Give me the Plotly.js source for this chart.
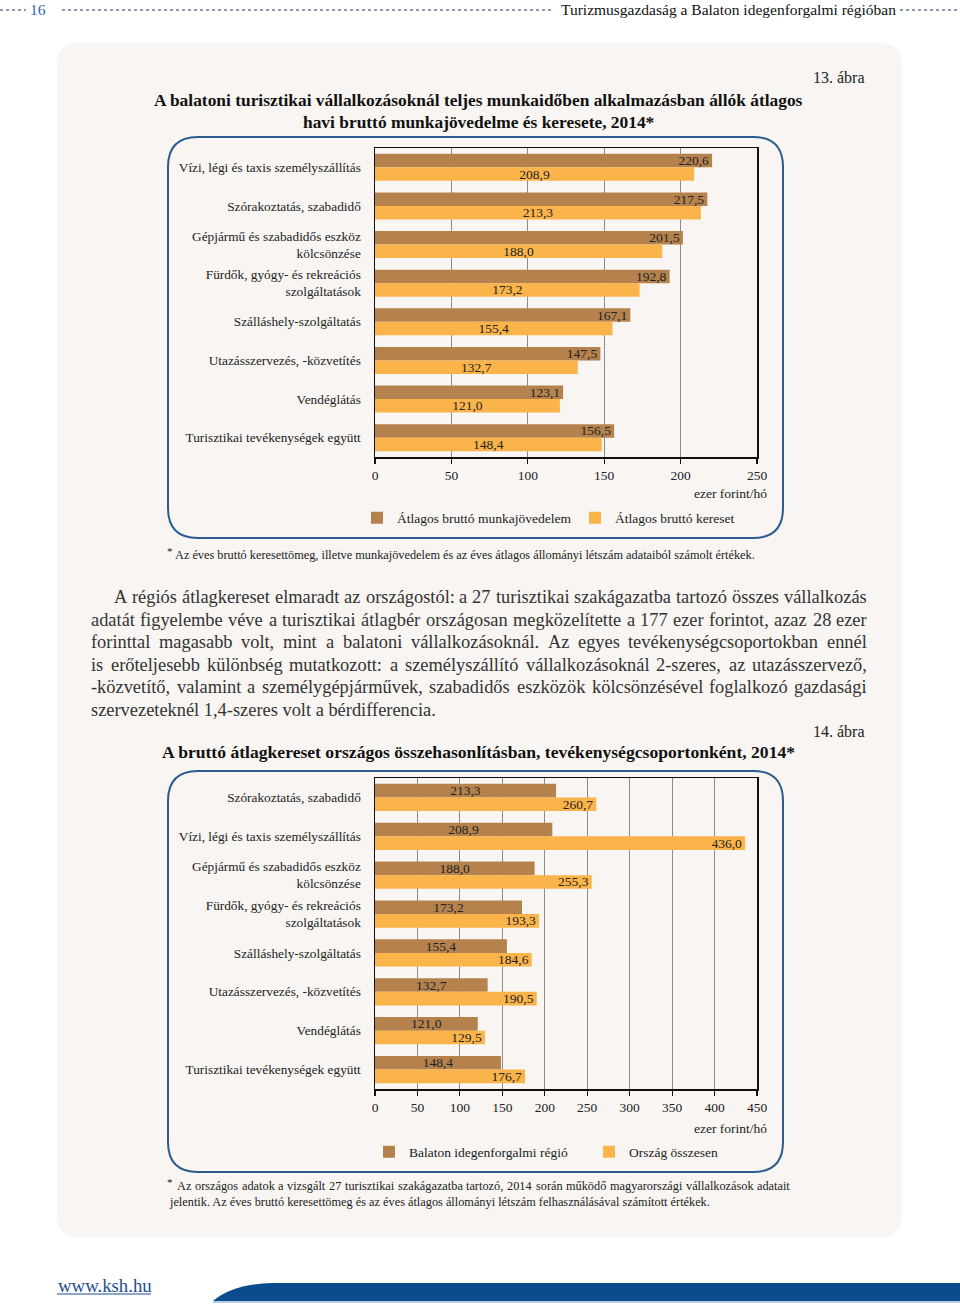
<!DOCTYPE html>
<html><head><meta charset="utf-8">
<script src="https://cdn.plot.ly/plotly-3.0.1.min.js"></script>
<style>html,body{margin:0;padding:0;background:#fff}#chart{width:960px;height:1308px}</style>
</head><body><div id="chart"></div>
<script>
// ---------- DATA ----------
const categories1 = ['Vízi, légi és taxis személyszállítás','Szórakoztatás, szabadidő','Gépjármű és szabadidős eszköz<br>kölcsönzése','Fürdők, gyógy- és rekreációs<br>szolgáltatások','Szálláshely-szolgáltatás','Utazásszervezés, -közvetítés','Vendéglátás','Turisztikai tevékenységek együtt'];
const munkajovedelem = [220.6,217.5,201.5,192.8,167.1,147.5,123.1,156.5];
const kereset = [208.9,213.3,188.0,173.2,155.4,132.7,121.0,148.4];
const seriesNames1 = ['Átlagos bruttó munkajövedelem','Átlagos bruttó kereset'];
const ticks1 = [0,50,100,150,200,250];

const categories2 = ['Szórakoztatás, szabadidő','Vízi, légi és taxis személyszállítás','Gépjármű és szabadidős eszköz<br>kölcsönzése','Fürdők, gyógy- és rekreációs<br>szolgáltatások','Szálláshely-szolgáltatás','Utazásszervezés, -közvetítés','Vendéglátás','Turisztikai tevékenységek együtt'];
const balaton = [213.3,208.9,188.0,173.2,155.4,132.7,121.0,148.4];
const orszag = [260.7,436.0,255.3,193.3,184.6,190.5,129.5,176.7];
const seriesNames2 = ['Balaton idegenforgalmi régió','Ország összesen'];
const ticks2 = [0,50,100,150,200,250,300,350,400,450];

const axisUnit = 'ezer forint/hó';
const title1 = ['A balatoni turisztikai vállalkozásoknál teljes munkaidőben alkalmazásban állók átlagos','havi bruttó munkajövedelme és keresete, 2014*'];
const title2 = 'A bruttó átlagkereset országos összehasonlításban, tevékenységcsoportonként, 2014*';
const figLabel1 = '13. ábra', figLabel2 = '14. ábra';
const note1 = 'Az éves bruttó keresettömeg, illetve munkajövedelem és az éves átlagos állományi létszám adataiból számolt értékek.';
const note2 = ['Az országos adatok a vizsgált 27 turisztikai szakágazatba tartozó, 2014 során működő magyarországi vállalkozások adatait','jelentik. Az éves bruttó keresettömeg és az éves átlagos állományi létszám felhasználásával számított értékek.'];
const paragraph = [
 'A régiós átlagkereset elmaradt az országostól: a 27 turisztikai szakágazatba tartozó összes vállalkozás',
 'adatát figyelembe véve a turisztikai átlagbér országosan megközelítette a 177 ezer forintot, azaz 28 ezer',
 'forinttal magasabb volt, mint a balatoni vállalkozásoknál. Az egyes tevékenységcsoportokban ennél',
 'is erőteljesebb különbség mutatkozott: a személyszállító vállalkozásoknál 2-szeres, az utazásszervező,',
 '-közvetítő, valamint a személygépjárművek, szabadidős eszközök kölcsönzésével foglalkozó gazdasági',
 'szervezeteknél 1,4-szeres volt a bérdifferencia.'];
const headerNum = '16';
const headerText = 'Turizmusgazdaság a Balaton idegenforgalmi régióban';
const footerLink = 'www.ksh.hu';

// ---------- STYLE ----------
const W = 960, H = 1308;
const FONT = '"Liberation Serif", "DejaVu Serif", serif';
const BROWN = '#b5824e', YELLOW = '#fbb44a', BOXBLUE = '#2c5d8e', TXT = '#222';
const px = x => x / W, py = y => 1 - y / H;

function rr(x0, y0, x1, y1, r) {
  const X = x => px(x), Y = y => py(y);
  return `M${X(x0+r)},${Y(y0)} L${X(x1-r)},${Y(y0)} Q${X(x1)},${Y(y0)} ${X(x1)},${Y(y0+r)} L${X(x1)},${Y(y1-r)} Q${X(x1)},${Y(y1)} ${X(x1-r)},${Y(y1)} L${X(x0+r)},${Y(y1)} Q${X(x0)},${Y(y1)} ${X(x0)},${Y(y1-r)} L${X(x0)},${Y(y0+r)} Q${X(x0)},${Y(y0)} ${X(x0+r)},${Y(y0)} Z`;
}

const cv = document.createElement('canvas').getContext('2d');
function measure(t, size) { cv.font = size + 'px "Liberation Serif"'; return cv.measureText(t).width; }
const annotations = [];
function ann(text, x, y, opt = {}) {
  annotations.push(Object.assign({text, x: px(x), y: py(y), xref: 'paper', yref: 'paper', showarrow: false,
    xanchor: 'left', yanchor: 'middle', borderpad: 0,
    font: {family: FONT, size: opt.size || 14, color: opt.color || TXT}}, opt.extra || {}));
}
function justifyLine(line, x0, x1, y, size, color) {
  const words = line.split(' ');
  const ws = words.map(w => measure(w, size));
  const sum = ws.reduce((a, b) => a + b, 0);
  const gap = (x1 - x0 - sum) / (words.length - 1);
  let x = x0;
  words.forEach((w, i) => { ann(w, x, y, {size, color}); x += ws[i] + gap; });
}

// ---------- TEXT ----------
ann(headerNum, 29, 9, {size: 15.5, color: '#2a68b0'});
ann(headerText, 560, 9, {size: 15.5, color: '#111'});
ann(figLabel1, 866, 77, {size: 16, extra: {xanchor: 'right'}});
ann('<b>' + title1[0] + '</b>', 478, 100, {size: 17.4, color: '#111', extra: {xanchor: 'center'}});
ann('<b>' + title1[1] + '</b>', 478, 122, {size: 17.4, color: '#111', extra: {xanchor: 'center'}});
ann(axisUnit, 768, 494, {size: 13.5, extra: {xanchor: 'right'}});
ann('*', 166, 551, {size: 11});
ann(note1, 174, 555, {size: 12.3});
paragraph.forEach((l, i) => {
  const y = 597 + i * 22.6;
  if (i === paragraph.length - 1) ann(l, 90, y, {size: 18.4, color: '#333'});
  else justifyLine(l, i === 0 ? 113 : 90, 866, y, 18.4, '#333');
});
ann(figLabel2, 866, 731, {size: 16, extra: {xanchor: 'right'}});
ann('<b>' + title2 + '</b>', 478, 752, {size: 17.6, color: '#111', extra: {xanchor: 'center'}});
ann(axisUnit, 768, 1128, {size: 13.5, extra: {xanchor: 'right'}});
ann('*', 166, 1182, {size: 11});
justifyLine(note2[0], 176, 789, 1186, 12.3, TXT);
ann(note2[1], 168, 1202, {size: 12.3});
ann(footerLink, 57, 1285, {size: 18.8, color: '#1d4f91'});

// ---------- SHAPES ----------
const shapes = [
  {type: 'path', xref: 'paper', yref: 'paper', layer: 'below', path: rr(57, 43, 902, 1237, 22), fillcolor: '#f8f5f2', line: {width: 0}},
  {type: 'path', xref: 'paper', yref: 'paper', layer: 'below', path: rr(168, 137, 783, 538, 30), fillcolor: 'rgba(0,0,0,0)', line: {color: BOXBLUE, width: 2}},
  {type: 'path', xref: 'paper', yref: 'paper', layer: 'below', path: rr(168, 771, 783, 1172, 30), fillcolor: 'rgba(0,0,0,0)', line: {color: BOXBLUE, width: 2}},
  {type: 'line', xref: 'paper', yref: 'paper', x0: px(0), x1: px(26), y0: py(10), y1: py(10), line: {color: '#8d9bb2', width: 2, dash: 'dot'}},
  {type: 'line', xref: 'paper', yref: 'paper', x0: px(62), x1: px(554), y0: py(10), y1: py(10), line: {color: '#8d9bb2', width: 2, dash: 'dot'}},
  {type: 'line', xref: 'paper', yref: 'paper', x0: px(900), x1: px(960), y0: py(10), y1: py(10), line: {color: '#8d9bb2', width: 2, dash: 'dot'}},
  {type: 'line', xref: 'paper', yref: 'paper', x0: px(57), x1: px(151), y0: py(1294), y1: py(1294), line: {color: '#1d4f91', width: 1}},
  {type: 'path', xref: 'paper', yref: 'paper', path: `M${px(213)},${py(1301)} Q${px(232)},${py(1284)} ${px(272)},${py(1283)} L${px(960)},${py(1283)} L${px(960)},${py(1301)} Z`, fillcolor: '#0b4c8c', line: {width: 0}},
  {type: 'line', xref: 'paper', yref: 'paper', x0: px(213), x1: px(960), y0: py(1302), y1: py(1302), line: {color: '#6f9fd0', width: 1}}
];

// ---------- TRACES ----------
const tf = {family: FONT, size: 13.5, color: TXT};
function bar(y, x, name, color, xa, ya, lg, anchor) {
  return {type: 'bar', orientation: 'h', y, x, name, marker: {color, line: {width: 0}}, xaxis: xa, yaxis: ya, legend: lg,
    texttemplate: '%{x:.1f}', textposition: 'inside', insidetextanchor: anchor, constraintext: 'none',
    textfont: tf, insidetextfont: tf, hoverinfo: 'skip', cliponaxis: false};
}
const data = [
  bar(categories1, munkajovedelem, seriesNames1[0], BROWN, 'x', 'y', 'legend', 'end'),
  bar(categories1, kereset, seriesNames1[1], YELLOW, 'x', 'y', 'legend', 'middle'),
  bar(categories2, balaton, seriesNames2[0], BROWN, 'x2', 'y2', 'legend2', 'middle'),
  bar(categories2, orszag, seriesNames2[1], YELLOW, 'x2', 'y2', 'legend2', 'end')
];

function xAxis(ticks, dom, anchor) {
  return {domain: dom, anchor, range: [0, ticks[ticks.length - 1]], tickvals: ticks, ticktext: ticks.map(String),
    showgrid: true, gridcolor: '#8c8c8c', gridwidth: 1, zeroline: false, showline: true, linecolor: '#111', linewidth: 1.5,
    mirror: true, ticks: 'outside', ticklen: 5, tickcolor: '#111', tickwidth: 1.2,
    tickfont: {family: FONT, size: 13.5, color: TXT}, fixedrange: true};
}
function yAxis(dom, anchor) {
  return {domain: dom, anchor, type: 'category', autorange: 'reversed', showgrid: false, zeroline: false,
    showline: true, linecolor: '#111', linewidth: 1.5, mirror: true, ticks: '', ticklabelstandoff: 10,
    tickfont: {family: FONT, size: 13.3, color: TXT}, fixedrange: true};
}
const legendBase = {orientation: 'h', xanchor: 'left', yanchor: 'middle', bgcolor: 'rgba(0,0,0,0)',
  font: {family: FONT, size: 13.5, color: TXT}, entrywidthmode: 'pixels', itemwidth: 30, itemclick: false, itemdoubleclick: false};

const layout = {
  width: W, height: H, margin: {l: 0, r: 0, t: 0, b: 0}, paper_bgcolor: '#ffffff', plot_bgcolor: 'rgba(0,0,0,0)',
  barmode: 'group', bargap: 0.3, bargroupgap: 0, separators: ', ', showlegend: true,
  font: {family: FONT, color: TXT},
  xaxis: xAxis(ticks1, [px(375), px(757)], 'y'),
  yaxis: yAxis([py(457), py(148)], 'x'),
  xaxis2: xAxis(ticks2, [px(375), px(757)], 'y2'),
  yaxis2: yAxis([py(1089), py(778)], 'x2'),
  legend: Object.assign({}, legendBase, {x: px(357), y: py(518), entrywidth: 173}),
  legend2: Object.assign({}, legendBase, {x: px(369), y: py(1152), entrywidth: 175}),
  shapes, annotations
};
Plotly.newPlot('chart', data, layout, {staticPlot: true, displayModeBar: false});
</script></body></html>
